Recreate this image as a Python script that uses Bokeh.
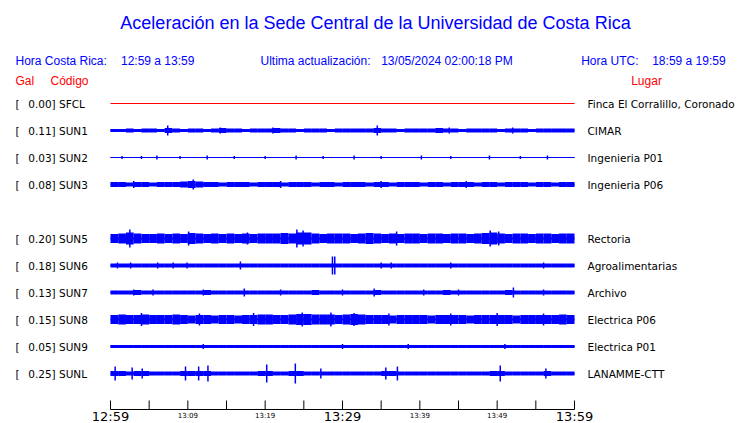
from bokeh.plotting import figure
from bokeh.models import Range1d, Label
from bokeh.core.properties import value
from bokeh.embed import file_html
from bokeh.resources import INLINE

# ---------------- data ----------------
codes = ["SFCL", "SUN1", "SUN2", "SUN3", "SUN5", "SUN6", "SUN7", "SUN8", "SUN9", "SUNL"]
gal = [0.00, 0.11, 0.03, 0.08, 0.20, 0.18, 0.13, 0.15, 0.05, 0.25]
places = ["Finca El Corralillo, Coronado", "CIMAR", "Ingenieria P01", "Ingenieria P06",
          "Rectoria", "Agroalimentarias", "Archivo", "Electrica P06", "Electrica P01", "LANAMME-CTT"]
rows = [0, 1, 2, 3, 5, 6, 7, 8, 9, 10]

tick_minutes = [0, 5, 10, 15, 20, 25, 30, 35, 40, 45, 50, 55, 60]
label_minutes = [0, 10, 20, 30, 40, 50, 60]
tick_labels = ["12:59", "13:09", "13:19", "13:29", "13:39", "13:49", "13:59"]
major_labels = ["12:59", "13:29", "13:59"]

# per-minute half envelope of each trace (display amplitude units)
env = {
    "SFCL": [0] * 60,
    "SUN1": [1.5, 1.5, 2, 1.5, 2, 2, 1.5, 2.5, 2, 1.5, 2, 2, 1.5, 2, 2.5, 2, 2, 1.5, 2, 2,
             2, 2.5, 2, 2, 1.5, 2, 2, 2, 1.5, 2, 2, 2, 2, 2, 2.5, 2, 2, 1.5, 2, 2,
             2, 2, 2.5, 2, 2, 1.5, 2, 2, 2, 2, 1.5, 2, 2, 2, 1.5, 2, 2, 2, 2, 2],
    "SUN2": [0.5] * 60,
    "SUN3": [2.5, 2.5, 2, 2.5, 2.5, 2, 2.5, 2.5, 2.5, 3, 3.5, 3, 2.5, 2.5, 2, 2.5, 2.5, 2.5, 2, 2.5,
             2.5, 2.5, 2, 2.5, 2.5, 2.5, 2, 2.5, 2.5, 2, 2.5, 2.5, 2.5, 2, 2.5, 2.5, 2, 2.5, 2.5, 2.5,
             2, 2.5, 2.5, 2, 2.5, 2.5, 2.5, 2, 2.5, 2.5, 2, 2.5, 2.5, 2.5, 2, 2.5, 2.5, 2, 2.5, 2.5],
    "SUN5": [4.5, 5, 6, 5, 4.5, 4.5, 5, 4.5, 5, 4.5, 5.5, 5, 4.5, 5, 4.5, 5, 4.5, 5, 4.5, 5,
             5, 5, 5.5, 5, 6, 6, 5, 4.5, 5, 5, 5, 4.5, 5, 5.5, 5, 4.5, 5, 4.5, 5, 5,
             4.5, 5, 5, 4.5, 5, 5, 4.5, 5, 5.5, 6, 5, 4.5, 5, 5, 4.5, 5, 5, 4.5, 5, 5],
    "SUN6": [2] * 60,
    "SUN7": [2, 2, 2, 2.5, 2, 2, 2, 2, 2, 2, 2, 2, 2.5, 2, 2, 2, 2, 2, 2, 2,
             2, 2, 2, 2, 2, 2, 2.5, 2, 2, 2, 2, 2, 2, 2, 2.5, 2, 2, 2, 2, 2,
             2, 2, 2, 2.5, 2, 2, 2, 2, 2, 2, 2, 2.5, 2, 2, 2, 2, 2, 2, 2, 2],
    "SUN8": [4.5, 5, 4.5, 4.5, 5, 4.5, 4.5, 4.5, 5, 4.5, 4, 4.5, 4.5, 4, 4.5, 4.5, 4, 4.5, 4.5, 5,
             5, 4.5, 4.5, 5, 5.5, 5.5, 5, 5, 5, 4.5, 5, 5.5, 5, 4.5, 4.5, 4.5, 4, 4.5, 4.5, 4.5,
             4.5, 4, 4.5, 4.5, 4.5, 4.5, 4, 4.5, 4.5, 4.5, 4.5, 4.5, 4, 4.5, 4.5, 4.5, 4.5, 4.5, 5, 4.5],
    "SUN9": [1.5] * 60,
    "SUNL": [2.5, 2.5, 2, 2.5, 2.5, 2, 2, 2, 2, 2.5, 2.5, 2.5, 2.5, 2, 2, 2, 2, 2, 2, 2.5,
             2.5, 2, 2, 2.5, 2.5, 2, 2, 2, 2, 2, 2, 2, 2, 2, 2, 2.5, 2.5, 2, 2, 2,
             2, 2, 2, 2, 2, 2, 2, 2, 2, 2.5, 2.5, 2, 2, 2, 2, 2, 2.5, 2, 2, 2],
}

# isolated peaks of each trace: (minute, half amplitude)
spikes = {
    "SFCL": [],
    "SUN1": [(7.4, 5), (14.2, 3), (21.0, 3), (34.5, 5), (43.8, 3), (52.0, 3)],
    "SUN2": [(1.5, 1.5), (4.0, 1.5), (6.0, 2), (9.0, 1.5), (12.5, 2), (16.0, 1.5), (20.0, 1.5),
             (24.0, 2), (27.5, 1.5), (31.5, 2), (35.0, 1.5), (40.2, 2), (44.0, 1.5), (49.0, 2),
             (53.0, 1.5), (56.5, 2)],
    "SUN3": [(10.7, 5), (3.0, 3.5), (22.0, 3.5), (35.0, 3.5), (46.0, 3.5)],
    "SUN5": [(2.5, 9), (10.1, 7), (17.7, 6), (24.1, 9), (24.9, 8), (37.0, 7), (49.1, 8), (50.2, 7)],
    "SUN6": [(0.9, 3), (2.6, 3), (6.1, 3), (8.1, 3), (9.9, 3), (16.8, 4), (28.7, 9), (29.0, 9),
             (35.0, 3), (36.3, 3), (44.0, 3), (56.0, 3)],
    "SUN7": [(3.0, 3), (5.5, 3), (12.0, 3), (17.3, 4), (22.0, 3), (30.0, 3), (34.1, 4),
             (40.5, 3), (45.0, 3), (52.1, 5), (56.0, 3)],
    "SUN8": [(4.0, 6.5), (11.5, 6), (18.5, 6.5), (24.8, 7), (28.5, 7), (31.5, 6.5), (36.0, 6),
             (44.0, 6), (50.0, 6.5), (56.0, 6)],
    "SUN9": [(12.0, 2.5), (30.0, 2.5), (38.5, 2.5), (51.0, 2.5)],
    "SUNL": [(0.6, 7), (2.8, 6), (4.1, 5), (9.7, 7), (11.4, 7), (12.6, 8), (20.2, 9), (23.9, 10),
             (27.2, 5), (35.6, 6), (37.1, 7), (50.4, 8), (56.3, 5)],
}

# ---------------- layout helpers ----------------
W, H = 740, 423
PX_PER_MIN = 464 / 60.0
ROW_PX = 27.0
AMP = 1.0 / ROW_PX          # display amplitude unit -> row units


def xm(px):                  # page x (px) -> minutes
    return (px - 110) / PX_PER_MIN


def yr(px):                  # page y (px) -> row units
    return (px - 103) / ROW_PX


p = figure(width=W, height=H, output_backend="svg", toolbar_location=None,
           x_range=Range1d(xm(0), xm(W)), y_range=Range1d(yr(H), yr(0)),
           min_border=0, min_border_left=0, min_border_right=0,
           min_border_top=0, min_border_bottom=0)
p.axis.visible = False
p.grid.visible = False
p.outline_line_color = None
p.background_fill_color = "white"
p.border_fill_color = "white"

BLUE = "#0000ff"
RED = "#ff0000"

# ---------------- traces ----------------
for code, r in zip(codes, rows):
    if code == "SFCL":
        p.line([0, 60], [r, r], line_color=RED, line_width=1)
        continue
    e = env[code]
    left = list(range(60))
    right = [m + 1 for m in left]
    top = [r - a * AMP for a in e]
    bot = [r + a * AMP for a in e]
    p.quad(left=left, right=right, top=top, bottom=bot, fill_color=BLUE, line_color=None)
    lw = 1 if code == "SUN2" else 2
    p.line([0, 60], [r, r], line_color=BLUE, line_width=lw)
    sx = [s[0] for s in spikes[code]]
    p.segment(x0=sx, x1=sx, y0=[r - s[1] * AMP for s in spikes[code]],
              y1=[r + s[1] * AMP for s in spikes[code]], line_color=BLUE, line_width=1.5)

# ---------------- station labels ----------------
FONT_L = value("DejaVu Sans")
p.text(x=[xm(15)] * len(rows), y=rows, text=["["] * len(rows), text_font=FONT_L,
       text_font_size="10.5px", text_color="black", text_baseline="middle")
p.text(x=[xm(27.7)] * len(rows), y=rows, text=[f"{g:.2f}] {c}" for g, c in zip(gal, codes)],
       text_font=FONT_L, text_font_size="10.5px", text_color="black", text_baseline="middle")
p.text(x=[xm(587)] * len(rows), y=rows, text=places, text_font=FONT_L,
       text_font_size="10.5px", text_color="black", text_baseline="middle")

# ---------------- time axis (drawn) ----------------
AX_Y = 409
p.line([0, 60], [yr(AX_Y)] * 2, line_color="black", line_width=1)
p.segment(x0=tick_minutes, x1=tick_minutes, y0=[yr(AX_Y - 9)] * len(tick_minutes),
          y1=[yr(AX_Y)] * len(tick_minutes), line_color="black", line_width=1)
big_x = [m for m, t in zip(label_minutes, tick_labels) if t in major_labels]
big_t = [t for t in tick_labels if t in major_labels]
sm_x = [m for m, t in zip(label_minutes, tick_labels) if t not in major_labels]
sm_t = [t for t in tick_labels if t not in major_labels]
p.text(x=big_x, y=[yr(415.5)] * len(big_x), text=big_t, text_font=FONT_L,
       text_font_size="13px", text_color="black", text_align="center", text_baseline="middle")
p.text(x=sm_x, y=[yr(415.5)] * len(sm_x), text=sm_t, text_font=FONT_L, text_font_size="7px",
       text_color="black", text_align="center", text_baseline="middle")

# ---------------- header texts ----------------
FONT_H = "Liberation Sans"


def hlabel(txt, x_img, y_img, size, color, align="left"):
    p.add_layout(Label(x=x_img, y=H - y_img, x_units="screen", y_units="screen",
                       text=txt, text_font=FONT_H, text_font_size=size, text_color=color,
                       text_align=align, text_baseline="middle"))


hlabel("Aceleración en la Sede Central de la Universidad de Costa Rica", 375, 22.5, "18px",
       BLUE, "center")
hlabel("Hora Costa Rica:", 15, 60, "12px", BLUE)
hlabel("12:59 a 13:59", 120.5, 60, "12px", BLUE)
hlabel("Ultima actualización:", 260, 60, "12px", BLUE)
hlabel("13/05/2024 02:00:18 PM", 380.7, 60, "12px", BLUE)
hlabel("Hora UTC:", 580.7, 60, "12px", BLUE)
hlabel("18:59 a 19:59", 651.7, 60, "12px", BLUE)
hlabel("Gal", 15, 80.5, "12px", RED)
hlabel("Código", 50, 80.5, "12px", RED)
hlabel("Lugar", 630.7, 80.5, "12px", RED)

open("out.html", "w").write(file_html(p, INLINE))
